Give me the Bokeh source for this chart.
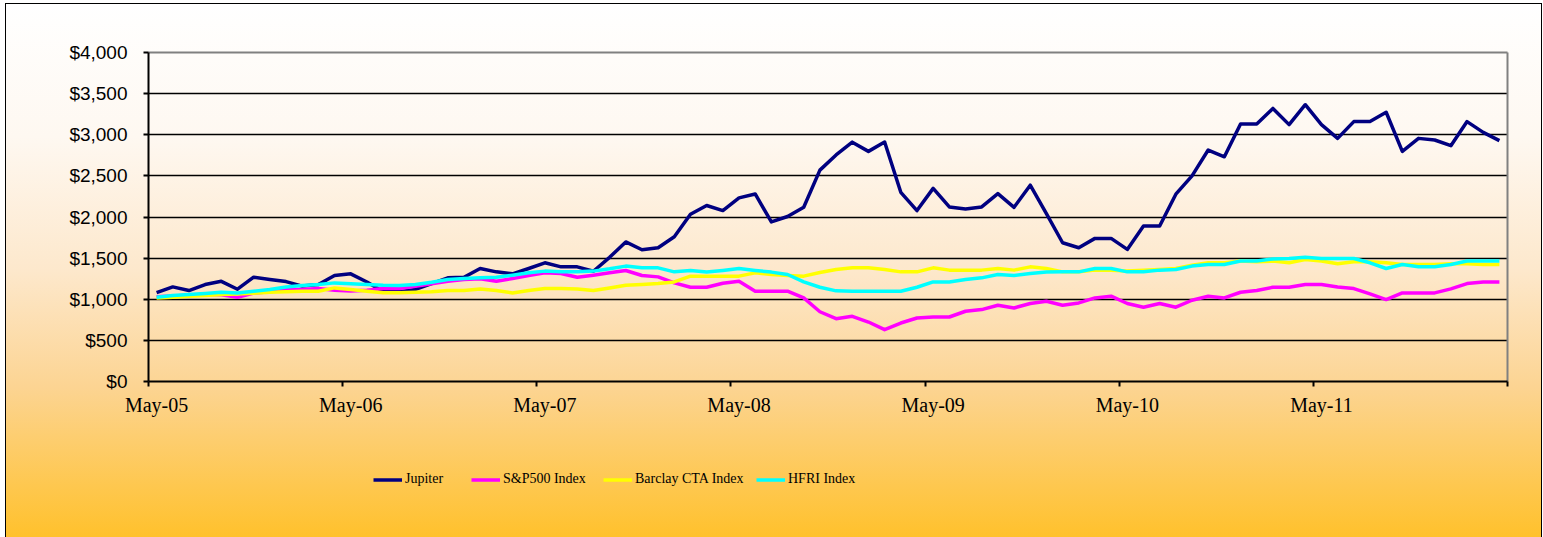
import numpy as np
from bokeh.plotting import figure
from bokeh.models import (Range1d, FixedTicker, NumeralTickFormatter, LinearAxis,
                          Legend, LegendItem, Grid)
from bokeh.embed import file_html
from bokeh.resources import INLINE

# ---------------- data (monthly, May-05 .. Apr-12) ----------------
tick_labels = ["May-05", "May-06", "May-07", "May-08", "May-09", "May-10", "May-11"]
series_names = ["Jupiter", "S&P500 Index", "Barclay CTA Index", "HFRI Index"]

jupiter = [1080, 1150, 1106, 1179, 1218, 1122, 1268, 1240, 1215, 1160, 1179, 1289, 1309, 1210,
           1095, 1090, 1120, 1190, 1260, 1268, 1374, 1333, 1309, 1374, 1443, 1394, 1394, 1340,
           1510, 1697, 1602, 1627, 1760, 2033, 2140, 2078, 2232, 2280, 1941, 2006, 2118, 2570,
           2755, 2910, 2798, 2912, 2300, 2078, 2348, 2122, 2098, 2122, 2285, 2118, 2387, 2040,
           1687, 1626, 1740, 1740, 1606, 1890, 1890, 2277, 2500, 2814, 2732, 3131, 3131, 3320,
           3123, 3365, 3123, 2956, 3160, 3160, 3274, 2798, 2956, 2936, 2867, 3160, 3029, 2928]

sp500 = [1030, 1040, 1050, 1060, 1055, 1025, 1075, 1090, 1118, 1118, 1130, 1110, 1100, 1110,
         1130, 1130, 1159, 1187, 1220, 1240, 1248, 1220, 1252, 1289, 1321, 1313, 1268, 1293,
         1321, 1350, 1289, 1272, 1199, 1146, 1146, 1195, 1220, 1098, 1098, 1098, 1016, 848,
         764, 793, 723, 630, 711, 772, 784, 784, 854, 874, 927, 894, 948, 975,
         927, 955, 1016, 1037, 948, 903, 948, 903, 988, 1037, 1016, 1085, 1106, 1146,
         1146, 1179, 1179, 1150, 1130, 1065, 996, 1077, 1077, 1077, 1126, 1191, 1211, 1211]

barclay = [1016, 1025, 1035, 1045, 1057, 1065, 1074, 1085, 1090, 1098, 1098, 1138, 1118, 1098,
           1080, 1080, 1085, 1090, 1106, 1106, 1126, 1106, 1077, 1106, 1130, 1130, 1126, 1106,
           1138, 1171, 1179, 1191, 1211, 1281, 1281, 1281, 1281, 1321, 1301, 1289, 1281, 1325,
           1362, 1382, 1382, 1362, 1333, 1333, 1382, 1354, 1354, 1354, 1374, 1354, 1394, 1374,
           1333, 1333, 1354, 1354, 1342, 1354, 1362, 1374, 1415, 1443, 1443, 1464, 1455, 1464,
           1443, 1484, 1464, 1431, 1455, 1455, 1443, 1423, 1423, 1423, 1431, 1431, 1423, 1423]

hfri = [1024, 1045, 1057, 1069, 1085, 1077, 1098, 1118, 1150, 1167, 1179, 1199, 1187, 1179,
        1170, 1167, 1179, 1207, 1240, 1252, 1260, 1268, 1293, 1321, 1342, 1333, 1333, 1342,
        1370, 1403, 1382, 1382, 1333, 1350, 1330, 1350, 1374, 1350, 1330, 1301, 1211, 1146,
        1102, 1098, 1098, 1098, 1098, 1146, 1211, 1211, 1240, 1260, 1301, 1289, 1313, 1330,
        1333, 1333, 1374, 1374, 1333, 1333, 1354, 1362, 1403, 1423, 1423, 1464, 1464, 1490,
        1496, 1512, 1496, 1496, 1496, 1443, 1374, 1423, 1394, 1394, 1423, 1464, 1464, 1464]

colors = ["#000080", "#FF00FF", "#FFFF00", "#00FFFF"]

n = len(jupiter)
x = np.arange(n)
Y_MAX = 4000
Y_STEP = 500

# ---------------- geometry: the frame covers the whole canvas ----------------
W, H = 1537, 534                      # canvas, placed at page (5, 3)
PLOT_L, PLOT_R, PLOT_T, PLOT_B = 143, 1502, 49, 378   # plot area inside canvas
px_x = (PLOT_R - PLOT_L) / n
px_y = (PLOT_B - PLOT_T) / Y_MAX
x0 = -0.5 - PLOT_L / px_x
x1 = n - 0.5 + (W - PLOT_R) / px_x
y1 = Y_MAX + PLOT_T / px_y
y0 = -(H - PLOT_B) / px_y

p = figure(width=W, height=H, output_backend="svg", toolbar_location=None,
           x_range=Range1d(x0, x1), y_range=Range1d(y0, y1),
           x_axis_location=None, y_axis_location=None,
           min_border_left=0, min_border_right=0, min_border_top=0, min_border_bottom=0)
p.background_fill_color = None
p.border_fill_color = None
p.outline_line_color = None
p.styles = {
    "margin-left": "5px",
    "margin-top": "3px",
    "box-shadow": "inset 1px 1px 0 #000000, inset -1px 0 0 #000000",
    "background": "linear-gradient(to bottom, #ffffff 0%, #fef8f1 25%, #fde8cc 50%, #fcd492 72%, #ffc12c 100%)",
}

for r in list(p.center):
    if isinstance(r, Grid):
        r.visible = False

xb = (-0.5, n - 0.5)


def bare_axis(loc, bounds, color, width):
    ax = LinearAxis(ticker=FixedTicker(ticks=[]), fixed_location=loc, bounds=bounds,
                    level="underlay")
    ax.axis_line_color = color
    ax.axis_line_width = width
    ax.major_tick_line_color = None
    ax.minor_tick_line_color = None
    ax.major_label_text_font_size = "1px"
    return ax


# horizontal grid lines inside the plot area
for v in range(Y_STEP, Y_MAX, Y_STEP):
    p.add_layout(bare_axis(v, xb, "#000000", 1.5), "below")
# plot-area border, top and right (grey)
p.add_layout(bare_axis(Y_MAX, xb, "#808080", 2), "below")
p.add_layout(bare_axis(n - 0.5, (0, Y_MAX), "#808080", 2), "right")

# y axis
yaxis = LinearAxis(ticker=FixedTicker(ticks=list(range(0, Y_MAX + 1, Y_STEP))),
                   formatter=NumeralTickFormatter(format="$0,0"),
                   bounds=(0, Y_MAX), fixed_location=-0.5)
yaxis.axis_line_color = "#000000"
yaxis.axis_line_width = 2
yaxis.major_tick_out = 5
yaxis.major_tick_in = 0
yaxis.major_tick_line_width = 2
yaxis.minor_tick_line_color = None
yaxis.major_label_standoff = 16
yaxis.major_label_text_font = "Liberation Sans"
yaxis.major_label_text_font_size = "19px"
yaxis.major_label_text_color = "#000000"
p.add_layout(yaxis, "left")

# x axis: tick marks at year boundaries
year_bounds = [k * 12 - 0.5 for k in range(len(tick_labels) + 1)]
xaxis_ticks = LinearAxis(ticker=FixedTicker(ticks=year_bounds), fixed_location=0, bounds=xb)
xaxis_ticks.major_label_overrides = {t: "" for t in year_bounds}
xaxis_ticks.major_label_text_font_size = "1px"
xaxis_ticks.major_label_standoff = 0
xaxis_ticks.axis_line_color = "#000000"
xaxis_ticks.axis_line_width = 2
xaxis_ticks.major_tick_out = 5
xaxis_ticks.major_tick_in = 0
xaxis_ticks.major_tick_line_width = 2
xaxis_ticks.minor_tick_line_color = None
p.add_layout(xaxis_ticks, "below")

# x axis: month labels
label_pos = [k * 12 for k in range(len(tick_labels))]
xaxis_lab = LinearAxis(ticker=FixedTicker(ticks=label_pos), fixed_location=0, bounds=xb)
xaxis_lab.major_label_overrides = {t: lab for t, lab in zip(label_pos, tick_labels)}
xaxis_lab.axis_line_color = None
xaxis_lab.major_tick_line_color = None
xaxis_lab.minor_tick_line_color = None
xaxis_lab.major_label_standoff = 6
xaxis_lab.major_label_text_font = "Liberation Serif"
xaxis_lab.major_label_text_font_size = "20px"
xaxis_lab.major_label_text_color = "#000000"
p.add_layout(xaxis_lab, "below")

# lines
renderers = []
for vals, col in zip([jupiter, sp500, barclay, hfri], colors):
    r = p.line(x, vals, line_color=col, line_width=3.5, line_join="round")
    renderers.append(r)

# legends (one per entry so each sits where the reference has it)
legend_x = [368, 466, 598, 751]
for name, r, lx in zip(series_names, renderers, legend_x):
    lg = Legend(items=[LegendItem(label=name, renderers=[r])], location=(lx, 50),
                orientation="horizontal", background_fill_alpha=0, border_line_color=None,
                padding=0, margin=0, spacing=0, glyph_width=29, glyph_height=15,
                label_height=15, label_standoff=3, label_text_font="Liberation Serif",
                label_text_font_size="14px", label_text_color="#000000")
    p.add_layout(lg)

open("out.html", "w").write(file_html(p, INLINE))
